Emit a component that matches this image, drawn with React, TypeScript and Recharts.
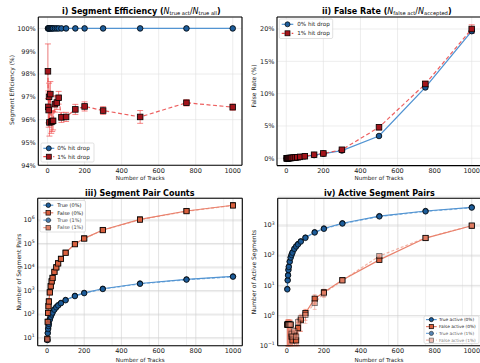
import React from 'react';
import { LineChart, Line, XAxis, YAxis, CartesianGrid, ErrorBar } from 'recharts';

// number of tracks, shared by all four panels
const tracks = [2, 4, 6, 8, 10, 15, 20, 25, 30, 40, 50, 60, 75, 100, 150, 200, 300, 500, 750, 1000];
const xTicks = [0, 200, 400, 600, 800, 1000];

// i) segment efficiency (%)
const eff0 = [100, 100, 100, 100, 100, 100, 100, 100, 100, 100, 100, 100, 100, 100, 100, 100, 100, 100, 100, 100];
const eff1 = [98.12, 96.56, 96.42, 97.0, 95.88, 97.12, 95.9, 95.93, 95.95, 96.68, 96.75, 96.96, 96.1, 96.12, 96.45, 96.58, 96.4, 96.12, 96.74, 96.55];
const eff1Err = [1.2, 0.7, 0.75, 0.6, 0.6, 0.55, 0.5, 0.45, 0.4, 0.35, 0.3, 0.28, 0.22, 0.2, 0.22, 0.2, 0.17, 0.28, 0.14, 0.14];
const effTicks = [94, 95, 96, 97, 98, 99, 100];

// ii) false rate (%)
const fr0 = [0, 0, 0, 0.01, 0.01, 0.02, 0.03, 0.05, 0.06, 0.1, 0.12, 0.15, 0.2, 0.3, 0.5, 0.72, 1.2, 3.45, 10.97, 19.67];
const fr0Err = [0, 0, 0, 0.02, 0.02, 0.03, 0.03, 0.04, 0.04, 0.05, 0.05, 0.06, 0.06, 0.07, 0.08, 0.08, 0.1, 0.15, 0.25, 0.35];
const fr1 = [0, 0, 0.01, 0.01, 0.02, 0.03, 0.04, 0.05, 0.07, 0.1, 0.13, 0.16, 0.22, 0.32, 0.55, 0.75, 1.32, 4.8, 11.5, 20.0];
const fr1Err = [0, 0.01, 0.02, 0.02, 0.03, 0.03, 0.04, 0.04, 0.05, 0.05, 0.06, 0.06, 0.07, 0.08, 0.1, 0.1, 0.12, 0.4, 0.45, 0.65];
const frTicks = [0, 5, 10, 15, 20];

// iii) segment pair counts
const true0 = [8, 16, 24, 32, 40, 60, 80, 100, 120, 160, 200, 240, 300, 400, 600, 800, 1200, 2000, 3000, 4000];
const false0 = [9, 48, 115, 220, 350, 850, 1550, 2500, 3500, 6300, 9800, 14500, 22500, 41000, 95000, 165000, 375000, 1050000, 2400000, 4200000];
const true1 = [8, 15.5, 23, 31, 38.5, 58, 77, 96.5, 116, 154, 193, 232, 289, 386, 578, 772, 1158, 1928, 2895, 3862];
const false1 = [8.5, 46, 112, 214, 340, 830, 1510, 2430, 3420, 6150, 9550, 14150, 21900, 40000, 92500, 161000, 366000, 1025000, 2340000, 4100000];
const pairTicks = [10, 100, 1000, 10000, 100000, 1000000];

// iv) active segment pairs
const act0 = [7.6, 15, 22, 33, 42, 62, 85, 105, 125, 165, 200, 235, 290, 385, 580, 770, 1150, 1980, 2920, 3880];
const act1 = [7.3, 14.5, 21.2, 32, 40.5, 60, 82, 101, 121, 159, 193, 227, 280, 372, 560, 743, 1110, 1910, 2820, 3745];
const fact0 = [0.5, 0.5, 0.5, 0.5, 0.5, 0.5, 0.5, 0.2, 0.15, 0.22, 0.15, 0.38, 0.7, 1.2, 3.6, 5.9, 15, 70, 370, 950];
const fact0Lo = [0.4, 0.4, 0.4, 0.4, 0.4, 0.4, 0.4, 0.1, 0.05, 0.12, 0.05, 0.28, 0.4, 0.5, 1.2, 1.5, 2.5, 8, 30, 50];
const fact0Hi = [0.2, 0.2, 0.2, 0.2, 0.2, 0.2, 0.2, 0.1, 0.1, 0.1, 0.1, 0.2, 0.3, 0.4, 1.2, 1.5, 2.5, 8, 30, 50];
const fact1 = [0.5, 0.5, 0.5, 0.5, 0.5, 0.5, 0.5, 0.25, 0.2, 0.3, 0.2, 0.6, 0.8, 1.05, 2.6, 5.5, 14.5, 94, 375, 960];
const fact1Lo = [0.4, 0.4, 0.4, 0.4, 0.4, 0.4, 0.4, 0.15, 0.1, 0.2, 0.1, 0.5, 0.5, 0.5, 1, 1.5, 2.5, 10, 30, 50];
const fact1Hi = [0.2, 0.2, 0.2, 0.2, 0.2, 0.2, 0.2, 0.1, 0.1, 0.1, 0.1, 0.2, 0.3, 0.4, 1, 1.5, 2.5, 10, 30, 50];
const actTicks = [0.1, 1, 10, 100, 1000];

const effRows = tracks.map((x, i) => ({ x, a: eff0[i], b: eff1[i], bErr: eff1Err[i] }));
const frRows = tracks.map((x, i) => ({ x, a: fr0[i], aErr: fr0Err[i], b: fr1[i], bErr: fr1Err[i] }));
const pairRows = tracks.map((x, i) => ({ x, t0: true0[i], f0: false0[i], t1: true1[i], f1: false1[i] }));
const actRows = tracks.map((x, i) => ({
  x,
  t0: act0[i],
  f0: fact0[i],
  f0e: [fact0Lo[i], fact0Hi[i]],
  t1: act1[i],
  f1: fact1[i],
  f1e: [fact1Lo[i], fact1Hi[i]],
}));

const FONT = '"DejaVu Sans", sans-serif';
const TXT = '#1a1a1a';
const tickStyle = { fontSize: 6.5, fill: TXT, fontFamily: FONT };
const AX = { stroke: '#000', strokeWidth: 1.1 };

const BLUE = '#5294d2';
const BLUE_DOT = '#1d5d9b';
const RED = '#ea4444';
const RED_DOT = '#a3141b';
const SAL = '#e9826d';
const SAL_DOT = '#d9603e';

// minor grid positions (log decades 2..9 and every 50 tracks)
const minorX = [50, 100, 150, 250, 300, 350, 450, 500, 550, 650, 700, 750, 850, 900, 950];
const logMinor = (lo: number, hi: number) => {
  const out: number[] = [];
  for (let e = lo; e <= hi; e++) for (let k = 2; k <= 9; k++) out.push(k * Math.pow(10, e));
  return out;
};

const circle = (fill: string, r: number, op = 1) => (p: any) =>
  p.cx == null || p.cy == null || isNaN(p.cy) ? (
    <g key={`c${p.index}`} />
  ) : (
    <circle key={`c${p.index}`} cx={p.cx} cy={p.cy} r={r} fill={fill} stroke="#000" strokeWidth={0.8} opacity={op} />
  );

const square = (fill: string, s: number, op = 1) => (p: any) =>
  p.cx == null || p.cy == null || isNaN(p.cy) ? (
    <g key={`s${p.index}`} />
  ) : (
    <rect key={`s${p.index}`} x={p.cx - s / 2} y={p.cy - s / 2} width={s} height={s} fill={fill} stroke="#000" strokeWidth={0.8} opacity={op} />
  );

function PowTick(p: any) {
  const { x, y, payload } = p;
  const e = Math.round(Math.log10(payload.value));
  return (
    <text x={x} y={y} textAnchor="end" fontFamily={FONT} fill={TXT} fontSize={6.5}>
      <tspan dy="0.35em">10</tspan>
      <tspan dy={-2.8} fontSize={4.6}>{e < 0 ? '\u2212' + -e : e}</tspan>
    </text>
  );
}

// inward ticks on all four sides + top/right frame lines
function frame(yd: number[], yt: number[], ys: 'linear' | 'log' = 'linear') {
  const tl = { stroke: '#000', strokeWidth: 0.7 };
  return [
    <XAxis key="fb" xAxisId="fb" type="number" domain={[-50, 1050]} ticks={xTicks} allowDataOverflow orientation="bottom" mirror height={1} tick={false} tickSize={3} tickLine={tl} axisLine={false} />,
    <XAxis key="ft" xAxisId="ft" type="number" domain={[-50, 1050]} ticks={xTicks} allowDataOverflow orientation="top" mirror height={1} tick={false} tickSize={3} tickLine={tl} axisLine={AX} />,
    <YAxis key="fl" yAxisId="fl" type="number" scale={ys} domain={yd} ticks={yt} allowDataOverflow orientation="left" mirror width={1} tick={false} tickSize={3} tickLine={tl} axisLine={false} />,
    <YAxis key="fr" yAxisId="fr" type="number" scale={ys} domain={yd} ticks={yt} allowDataOverflow orientation="right" mirror width={1} tick={false} tickSize={3} tickLine={tl} axisLine={AX} />,
  ];
}

type Row = { label: string; color: string; dash?: string; marker: 'c' | 's'; fill: string; op?: number };

function LegendBox(props: { x: number; y: number; w: number; h: number; rows: Row[]; ys: number[]; lx: number[]; tx: number; fs: number; ms: number }) {
  const { x, y, w, h, rows, ys, lx, tx, fs, ms } = props;
  const mid = (lx[0] + lx[1]) / 2;
  return (
    <g>
      <rect x={x} y={y} width={w} height={h} rx={1.5} fill="#fff" fillOpacity={0.85} stroke="#cccccc" strokeWidth={0.6} />
      {rows.map((r, i) => (
        <g key={i} opacity={r.op ?? 1}>
          <line x1={lx[0]} x2={lx[1]} y1={ys[i]} y2={ys[i]} stroke={r.color} strokeWidth={1.2} strokeDasharray={r.dash} />
          {r.marker === 'c' ? (
            <circle cx={mid} cy={ys[i]} r={ms / 2} fill={r.fill} stroke="#000" strokeWidth={0.7} />
          ) : (
            <rect x={mid - ms / 2} y={ys[i] - ms / 2} width={ms} height={ms} fill={r.fill} stroke="#000" strokeWidth={0.7} />
          )}
          <text x={tx} y={ys[i]} dy="0.35em" fontSize={fs} fontFamily={FONT} fill={TXT}>
            {r.label}
          </text>
        </g>
      ))}
    </g>
  );
}

export default function App() {
  const xAxisProps = {
    dataKey: 'x',
    type: 'number' as const,
    domain: [-50, 1050],
    ticks: xTicks,
    allowDataOverflow: true,
    tickLine: false,
    tickSize: 0,
    tickMargin: 3,
    axisLine: AX,
    tick: tickStyle,
  };
  const yBase = { type: 'number' as const, allowDataOverflow: true, tickLine: false, tickSize: 0, tickMargin: 2.5, axisLine: AX };

  return (
    <div style={{ position: 'absolute', left: 0, top: 0, width: 480, height: 363, overflow: 'hidden', background: '#fff' }}>
      {/* i) Segment Efficiency */}
      <div style={{ position: 'absolute', left: 0, top: 0 }}>
        <LineChart width={245} height={182} data={effRows} margin={{ top: 17, right: 3, bottom: 0, left: 0 }}>
          <CartesianGrid stroke="#e0e0e0" strokeWidth={0.6} />
          <XAxis {...xAxisProps} height={16.7} />
          <YAxis {...yBase} domain={[94, 100.5]} ticks={effTicks} width={38.3} tick={tickStyle} tickFormatter={(v: number) => `${v}%`} />
          {frame([94, 100.5], effTicks)}
          <Line dataKey="a" stroke={BLUE} strokeWidth={1.3} dot={circle(BLUE_DOT, 2.8)} isAnimationActive={false} />
          <Line dataKey="b" stroke={RED} strokeOpacity={0.85} strokeWidth={1.2} strokeDasharray="4 2.5" dot={square(RED_DOT, 5.6)} isAnimationActive={false}>
            <ErrorBar dataKey="bErr" direction="y" width={3} stroke="rgba(240,60,60,0.7)" strokeWidth={0.9} />
          </Line>
        </LineChart>
      </div>

      {/* ii) False Rate */}
      <div style={{ position: 'absolute', left: 240, top: 0 }}>
        <LineChart width={241} height={182} data={frRows} margin={{ top: 17, right: 0, bottom: 0, left: 0 }}>
          <CartesianGrid stroke="#e0e0e0" strokeWidth={0.6} />
          <XAxis {...xAxisProps} height={16.4} />
          <YAxis {...yBase} domain={[-1.13, 21.86]} ticks={frTicks} width={37} tick={tickStyle} tickFormatter={(v: number) => `${v}%`} />
          {frame([-1.13, 21.86], frTicks)}
          <Line dataKey="a" stroke={BLUE} strokeWidth={1.3} dot={circle(BLUE_DOT, 2.8)} isAnimationActive={false}>
            <ErrorBar dataKey="aErr" direction="y" width={3} stroke="rgba(79,146,209,0.7)" strokeWidth={0.9} />
          </Line>
          <Line dataKey="b" stroke={RED} strokeOpacity={0.85} strokeWidth={1.2} strokeDasharray="4 2.5" dot={square(RED_DOT, 5.6)} isAnimationActive={false}>
            <ErrorBar dataKey="bErr" direction="y" width={3} stroke="rgba(240,60,60,0.7)" strokeWidth={0.9} />
          </Line>
        </LineChart>
      </div>

      {/* iii) Segment Pair Counts */}
      <div style={{ position: 'absolute', left: 0, top: 180 }}>
        <LineChart width={245} height={183} data={pairRows} margin={{ top: 18.3, right: 2.7, bottom: 0, left: 0 }}>
          <CartesianGrid stroke="#e2e2e2" strokeWidth={0.55} horizontalValues={logMinor(0, 6)} verticalValues={minorX} />
          <CartesianGrid stroke="#cfcfcf" strokeWidth={0.6} />
          <XAxis {...xAxisProps} height={17.3} />
          <YAxis {...yBase} scale="log" domain={[4.57, 8.3e6]} ticks={pairTicks} width={37.7} tickMargin={3} tick={<PowTick />} />
          {frame([4.57, 8.3e6], pairTicks, 'log')}
          <Line dataKey="t0" stroke={BLUE} strokeWidth={1.2} dot={circle(BLUE_DOT, 2.7)} isAnimationActive={false} />
          <Line dataKey="f0" stroke={SAL} strokeWidth={1.2} dot={square(SAL_DOT, 5.2)} isAnimationActive={false} />
          <Line dataKey="t1" stroke={BLUE} strokeOpacity={0.7} strokeWidth={1.2} strokeDasharray="3 2" dot={circle(BLUE_DOT, 2.7, 0.75)} isAnimationActive={false} />
          <Line dataKey="f1" stroke={SAL} strokeOpacity={0.7} strokeWidth={1.2} strokeDasharray="3 2" dot={square(SAL_DOT, 5.2, 0.75)} isAnimationActive={false} />
        </LineChart>
      </div>

      {/* iv) Active Segment Pairs */}
      <div style={{ position: 'absolute', left: 240, top: 180 }}>
        <LineChart width={241} height={183} data={actRows} margin={{ top: 18.3, right: 0, bottom: 0, left: 0 }}>
          <CartesianGrid stroke="#e2e2e2" strokeWidth={0.55} horizontalValues={logMinor(-1, 3)} verticalValues={minorX} />
          <CartesianGrid stroke="#cfcfcf" strokeWidth={0.6} />
          <XAxis {...xAxisProps} height={17.3} />
          <YAxis {...yBase} scale="log" domain={[0.1, 7700]} ticks={actTicks} width={37.7} tickMargin={3} tick={<PowTick />} />
          {frame([0.1, 7700], actTicks, 'log')}
          <Line dataKey="t0" stroke={BLUE} strokeWidth={1.2} dot={circle(BLUE_DOT, 2.7)} isAnimationActive={false} />
          <Line dataKey="f0" stroke={SAL} strokeWidth={1.2} dot={square(SAL_DOT, 5.2)} isAnimationActive={false}>
            <ErrorBar dataKey="f0e" direction="y" width={2} stroke="rgba(233,110,90,0.75)" strokeWidth={0.9} />
          </Line>
          <Line dataKey="t1" stroke={BLUE} strokeOpacity={0.7} strokeWidth={1.2} strokeDasharray="3 2" dot={circle(BLUE_DOT, 2.7, 0.7)} isAnimationActive={false} />
          <Line dataKey="f1" stroke={SAL} strokeOpacity={0.6} strokeWidth={1.2} strokeDasharray="3 2" dot={square('#e68f7a', 5.2, 0.6)} isAnimationActive={false}>
            <ErrorBar dataKey="f1e" direction="y" width={2} stroke="rgba(233,130,110,0.5)" strokeWidth={0.9} />
          </Line>
        </LineChart>
      </div>

      {/* titles, axis labels, legends */}
      <svg width={480} height={363} style={{ position: 'absolute', left: 0, top: 0, pointerEvents: 'none' }} fontFamily={FONT}>
        <text x={141.3} y={13.5} textAnchor="middle" fontSize={8} fontWeight="bold" fill="#000">
          i) Segment Efficiency (<tspan fontStyle="italic" fontWeight="normal">N</tspan>
          <tspan fontSize={5.2} fontWeight="normal" dy={1.6}>true act</tspan>
          <tspan fontWeight="normal" dy={-1.6}>/</tspan>
          <tspan fontStyle="italic" fontWeight="normal">N</tspan>
          <tspan fontSize={5.2} fontWeight="normal" dy={1.6}>true all</tspan>
          <tspan dy={-1.6}>)</tspan>
        </text>
        <text x={386.8} y={13.5} textAnchor="middle" fontSize={8} fontWeight="bold" fill="#000">
          ii) False Rate (<tspan fontStyle="italic" fontWeight="normal">N</tspan>
          <tspan fontSize={5.2} fontWeight="normal" dy={1.6}>false act</tspan>
          <tspan fontWeight="normal" dy={-1.6}>/</tspan>
          <tspan fontStyle="italic" fontWeight="normal">N</tspan>
          <tspan fontSize={5.2} fontWeight="normal" dy={1.6}>accepted</tspan>
          <tspan dy={-1.6}>)</tspan>
        </text>
        <text x={139.7} y={196} textAnchor="middle" fontSize={8} fontWeight="bold" fill="#000">
          iii) Segment Pair Counts
        </text>
        <text x={379.3} y={196} textAnchor="middle" fontSize={8} fontWeight="bold" fill="#000">
          iv) Active Segment Pairs
        </text>

        <text x={140.3} y={180} textAnchor="middle" fontSize={5.6} fill={TXT}>Number of Tracks</text>
        <text x={379} y={180} textAnchor="middle" fontSize={5.6} fill={TXT}>Number of Tracks</text>
        <text x={140.3} y={361.5} textAnchor="middle" fontSize={5.6} fill={TXT}>Number of Tracks</text>
        <text x={379} y={361.5} textAnchor="middle" fontSize={5.6} fill={TXT}>Number of Tracks</text>

        <text transform="translate(13.5,90) rotate(-90)" textAnchor="middle" fontSize={6} fill={TXT}>Segment Efficiency (%)</text>
        <text transform="translate(256,86) rotate(-90)" textAnchor="middle" fontSize={6} fill={TXT}>False Rate (%)</text>
        <text transform="translate(21,272) rotate(-90)" textAnchor="middle" fontSize={6} fill={TXT}>Number of Segment Pairs</text>
        <text transform="translate(255.5,272) rotate(-90)" textAnchor="middle" fontSize={6} fill={TXT}>Number of Active Segments</text>

        <LegendBox
          x={41} y={143} w={53} h={19} ys={[148.3, 156.7]} lx={[43.3, 54.3]} tx={57.3} fs={5.6} ms={5}
          rows={[
            { label: '0% hit drop', color: BLUE, marker: 'c', fill: BLUE_DOT },
            { label: '1% hit drop', color: RED, dash: '3 2', marker: 's', fill: RED_DOT },
          ]}
        />
        <LegendBox
          x={279.3} y={19} w={53.4} h={19.5} ys={[24.3, 33.3]} lx={[281.7, 293.3]} tx={297.3} fs={5.6} ms={5}
          rows={[
            { label: '0% hit drop', color: BLUE, marker: 'c', fill: BLUE_DOT },
            { label: '1% hit drop', color: RED, dash: '3 2', marker: 's', fill: RED_DOT },
          ]}
        />
        <LegendBox
          x={40} y={200.5} w={45.5} h={31.5} ys={[205.2, 212.8, 220.2, 227.7]} lx={[43.3, 53.3]} tx={57.3} fs={5} ms={4.6}
          rows={[
            { label: 'True (0%)', color: BLUE, marker: 'c', fill: BLUE_DOT },
            { label: 'False (0%)', color: SAL, marker: 's', fill: SAL_DOT },
            { label: 'True (1%)', color: BLUE, dash: '3 2', marker: 'c', fill: BLUE_DOT, op: 0.8 },
            { label: 'False (1%)', color: SAL, dash: '3 2', marker: 's', fill: SAL_DOT, op: 0.8 },
          ]}
        />
        <LegendBox
          x={424} y={316} w={55} h={27.5} ys={[319.6, 326.6, 333.4, 340.2]} lx={[426, 436.7]} tx={439} fs={4.3} ms={4.2}
          rows={[
            { label: 'True active (0%)', color: BLUE, marker: 'c', fill: BLUE_DOT },
            { label: 'False active (0%)', color: SAL, marker: 's', fill: SAL_DOT },
            { label: 'True active (1%)', color: BLUE, dash: '3 2', marker: 'c', fill: BLUE_DOT, op: 0.75 },
            { label: 'False active (1%)', color: SAL, dash: '3 2', marker: 's', fill: '#e68f7a', op: 0.6 },
          ]}
        />
      </svg>
    </div>
  );
}
